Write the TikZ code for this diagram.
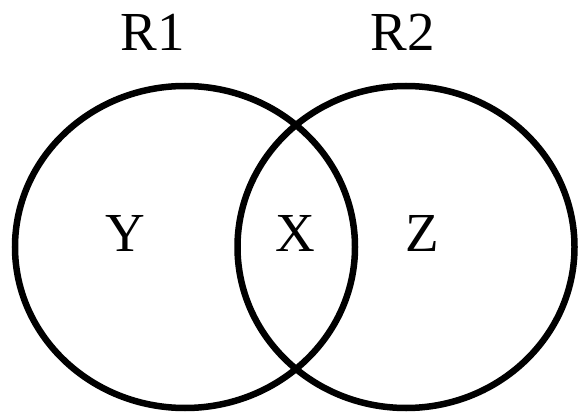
\documentclass[tikz,border=0pt]{standalone}
\usepackage{fontspec}
\setmainfont{Liberation Serif}
\usetikzlibrary{shapes.geometric}
\begin{document}
\begin{tikzpicture}[x=1pt,y=-1pt,
  setbox/.style={ellipse,draw=black,line width=6.5pt,minimum width=340pt,minimum height=322pt,inner sep=0pt},
  lbl/.style={inner sep=0pt,font=\fontsize{55}{60}\selectfont}]
\useasboundingbox (0,0) rectangle (578,414);
\node[setbox] (r1) at (185,247) {};
\node[setbox,minimum width=337pt] (r2) at (406,247) {};
\node[lbl] (t1) at (153,32) {R1};
\node[lbl] (t2) at (403,32) {R2};
\node[lbl] (y) at (125,233) {Y};
\node[lbl] (x) at (295,233) {X};
\node[lbl] (z) at (422,233) {Z};
\end{tikzpicture}
\end{document}
